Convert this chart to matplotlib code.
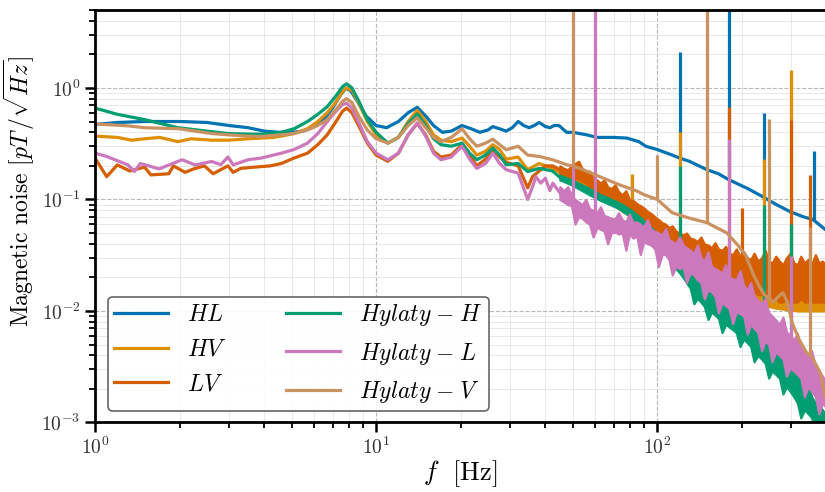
import numpy as np
import matplotlib
matplotlib.use("Agg")
import matplotlib.pyplot as plt

plt.rcParams["font.family"] = "serif"
plt.rcParams["font.serif"] = ["cmr10", "DejaVu Serif"]
plt.rcParams["mathtext.fontset"] = "cm"
plt.rcParams["axes.unicode_minus"] = False
plt.rcParams["axes.formatter.use_mathtext"] = True

# Values: frequency in Hz, noise in pT/sqrt(Hz).
# Smooth part of each spectrum
f_hl = [1, 1.2, 1.5, 2.0, 2.5, 3.0, 3.5, 4.0, 4.5, 5.0, 5.5, 6.0, 6.5, 7.0, 7.5, 7.8, 8.1, 8.6, 9.2,
        10, 10.9, 12, 13, 14, 15, 16, 17.2, 18.5, 20.2, 21.8, 23.4, 25, 26, 27.5, 29, 30.5, 32,
        33.5, 35, 36.5, 38, 40, 41.5, 43, 44.7, 47.6, 50, 56, 61, 70, 78, 86, 91, 100, 113,
        120, 130, 150, 165, 180, 210, 237, 265, 296, 330, 358, 395]
v_hl = [0.47, 0.49, 0.50, 0.50, 0.49, 0.46, 0.44, 0.41, 0.40, 0.40, 0.41, 0.45, 0.52, 0.66, 0.88,
        0.99, 0.95, 0.75, 0.56, 0.46, 0.44, 0.50, 0.60, 0.67, 0.56, 0.46, 0.40, 0.41, 0.46, 0.43,
        0.40, 0.42, 0.45, 0.43, 0.41, 0.44, 0.50, 0.46, 0.44, 0.46, 0.49, 0.45, 0.44, 0.46, 0.46,
        0.40, 0.40, 0.38, 0.36, 0.36, 0.355, 0.33, 0.30, 0.28, 0.25, 0.235, 0.22, 0.185, 0.17,
        0.15, 0.125, 0.106, 0.09, 0.078, 0.07, 0.066, 0.054]

f_hv = [1, 1.2, 1.35, 1.5, 1.7, 1.97, 2.2, 2.6, 3.0, 3.5, 3.9, 4.3, 4.6, 5.1, 5.7, 6.2, 6.7, 7.2,
        7.6, 7.85, 8.2, 8.7, 9.3, 10, 11, 12, 13, 14, 15, 16, 17, 18.5, 20.2, 21.5, 22.8, 24.5,
        26, 27.5, 29, 32, 34.6, 38, 42.4, 45]
v_hv = [0.37, 0.36, 0.34, 0.35, 0.36, 0.33, 0.35, 0.34, 0.34, 0.35, 0.355, 0.36, 0.37, 0.39, 0.43,
        0.50, 0.60, 0.75, 0.93, 1.0, 0.95, 0.72, 0.50, 0.38, 0.32, 0.36, 0.50, 0.63, 0.50, 0.38,
        0.34, 0.33, 0.355, 0.30, 0.25, 0.27, 0.31, 0.28, 0.23, 0.24, 0.185, 0.21, 0.19, 0.175]

f_lv = [1, 1.1, 1.2, 1.33, 1.5, 1.58, 1.83, 1.9, 2.09, 2.27, 2.45, 2.63, 2.97, 3.1, 3.3, 3.7, 4.2,
        4.6, 5.1, 5.7, 6.2, 6.7, 7.2, 7.6, 7.85, 8.2, 8.7, 9.3, 10, 11, 12, 13, 14, 15, 16, 17,
        18.5, 20.2, 21.5, 22.8, 24.5, 26, 27.5, 29, 32, 34.6, 36, 38, 40, 42.4, 45]
v_lv = [0.235, 0.16, 0.204, 0.18, 0.195, 0.166, 0.17, 0.20, 0.175, 0.19, 0.20, 0.17, 0.20, 0.175,
        0.19, 0.195, 0.20, 0.21, 0.235, 0.26, 0.31, 0.38, 0.50, 0.62, 0.66, 0.60, 0.45, 0.32,
        0.25, 0.22, 0.26, 0.38, 0.48, 0.38, 0.27, 0.24, 0.25, 0.31, 0.25, 0.20, 0.23, 0.275,
        0.24, 0.215, 0.20, 0.127, 0.16, 0.18, 0.20, 0.20, 0.185]

f_hyh = [1, 1.2, 1.5, 1.97, 2.5, 2.97, 3.5, 3.9, 4.6, 5.1, 5.7, 6.2, 6.7, 7.2, 7.6, 7.85, 8.2,
         8.7, 9.3, 10, 11, 12, 13, 14, 15, 16, 17, 18.5, 20.2, 21.5, 22.8, 24.5, 26, 27.5, 29,
         32, 34.6, 38, 42.4, 45]
v_hyh = [0.66, 0.58, 0.52, 0.44, 0.41, 0.39, 0.385, 0.385, 0.40, 0.43, 0.50, 0.58, 0.68, 0.85,
         1.03, 1.09, 1.0, 0.75, 0.52, 0.40, 0.32, 0.36, 0.48, 0.585, 0.46, 0.35, 0.31, 0.30,
         0.32, 0.26, 0.227, 0.25, 0.288, 0.25, 0.205, 0.21, 0.178, 0.19, 0.18, 0.158]

f_hyl = [1, 1.1, 1.31, 1.38, 1.45, 1.69, 2.04, 2.27, 2.6, 2.8, 2.97, 3.1, 3.5, 3.9, 4.6, 5.1, 5.7,
         6.2, 6.7, 7.2, 7.6, 7.85, 8.2, 8.7, 9.3, 10, 11, 12, 13, 14, 15, 16, 17, 18.5, 20.2,
         21.5, 22.8, 24.5, 26, 27.5, 29, 32, 34.6, 36, 37, 38.5, 40, 41.5, 42.5, 45]
v_hyl = [0.26, 0.243, 0.204, 0.178, 0.21, 0.188, 0.227, 0.204, 0.219, 0.205, 0.24, 0.204, 0.227,
         0.235, 0.26, 0.28, 0.32, 0.39, 0.50, 0.62, 0.71, 0.73, 0.66, 0.48, 0.33, 0.26, 0.227,
         0.26, 0.38, 0.486, 0.37, 0.26, 0.227, 0.24, 0.30, 0.23, 0.19, 0.21, 0.26, 0.21, 0.185,
         0.172, 0.10, 0.13, 0.16, 0.14, 0.155, 0.12, 0.14, 0.115]

f_hyv = [1, 1.31, 1.5, 1.73, 2.0, 2.27, 2.6, 2.97, 3.5, 3.9, 4.6, 5.1, 5.7, 6.2, 6.7, 7.2, 7.6,
         7.85, 8.2, 8.7, 9.3, 10, 11, 12, 13, 14, 15, 16, 17, 18.5, 20.2, 21.5, 22.8, 24.5, 26,
         27.5, 29, 32, 34.6, 38, 42.4, 47.6, 50, 54.5, 62.4, 73.5, 84, 90, 100, 113, 130, 150,
         177, 195, 207, 220, 231, 240, 250, 258, 270, 280, 290, 302, 320, 340, 350, 360, 380, 395]
v_hyv = [0.475, 0.457, 0.44, 0.435, 0.43, 0.41, 0.39, 0.38, 0.37, 0.367, 0.38, 0.39, 0.42, 0.46,
         0.52, 0.64, 0.76, 0.80, 0.74, 0.55, 0.42, 0.35, 0.32, 0.36, 0.46, 0.54, 0.44, 0.36,
         0.33, 0.36, 0.43, 0.35, 0.30, 0.32, 0.347, 0.31, 0.279, 0.30, 0.25, 0.243, 0.227, 0.205,
         0.20, 0.185, 0.16, 0.135, 0.12, 0.11, 0.10, 0.076, 0.068, 0.062, 0.05, 0.038, 0.031,
         0.021, 0.0165, 0.014, 0.013, 0.012, 0.0135, 0.0146, 0.012, 0.0078, 0.0055, 0.0042,
         0.004, 0.0036, 0.0028, 0.0017]

# Noisy high-frequency part: lower / upper edge of the band at each frequency
f_band = [45, 46.5, 48, 49.5, 51, 52.5, 54, 55.7, 57.4, 59.1, 61, 62.8, 64.7, 66.6, 68.6, 70.7,
          72.8, 75, 77.3, 79.6, 82, 84.5, 87, 89.6, 92.3, 95, 98, 101, 104, 107, 110, 113, 116.5,
          120, 123.5, 127, 131, 135, 139, 143, 147, 151.5, 156, 160.5, 165, 170, 175, 180, 185.5,
          191, 197, 203, 209, 215, 221, 228, 235, 242, 249, 256, 264, 272, 280, 288, 297, 306,
          315, 324, 334, 344, 354, 365, 376, 387, 395]

lo_hv = [0.16, 0.15, 0.155, 0.14, 0.145, 0.135, 0.13, 0.13, 0.12, 0.115, 0.11, 0.105, 0.10, 0.095,
         0.09, 0.088, 0.083, 0.078, 0.075, 0.07, 0.065, 0.06, 0.056, 0.053, 0.05, 0.046, 0.043,
         0.04, 0.037, 0.035, 0.033, 0.031, 0.029, 0.027, 0.025, 0.024, 0.022, 0.021, 0.02, 0.019,
         0.018, 0.017, 0.016, 0.015, 0.0155, 0.015, 0.0145, 0.014, 0.0135, 0.0132, 0.013,
         0.0125, 0.012, 0.012, 0.0118, 0.0115, 0.0113, 0.011, 0.011, 0.0108, 0.0106, 0.0105,
         0.0104, 0.0103, 0.0102, 0.0101, 0.01, 0.01, 0.01, 0.01, 0.01, 0.01, 0.01, 0.01, 0.01]
hi_hv = [0.19, 0.18, 0.175, 0.17, 0.175, 0.165, 0.16, 0.155, 0.15, 0.14, 0.135, 0.13, 0.125, 0.12,
         0.115, 0.11, 0.105, 0.10, 0.095, 0.09, 0.085, 0.08, 0.075, 0.07, 0.066, 0.062, 0.058,
         0.055, 0.052, 0.05, 0.047, 0.045, 0.042, 0.04, 0.037, 0.035, 0.033, 0.031, 0.03, 0.028,
         0.027, 0.026, 0.024, 0.023, 0.022, 0.021, 0.02, 0.019, 0.019, 0.019, 0.019, 0.018,
         0.018, 0.0175, 0.017, 0.017, 0.0165, 0.016, 0.016, 0.0155, 0.0155, 0.015, 0.015, 0.015,
         0.0145, 0.0145, 0.014, 0.014, 0.014, 0.014, 0.0135, 0.0135, 0.0135, 0.0135, 0.0135]

lo_lv = [0.17, 0.165, 0.16, 0.15, 0.155, 0.15, 0.145, 0.14, 0.13, 0.12, 0.115, 0.11, 0.105, 0.10,
         0.097, 0.093, 0.088, 0.083, 0.08, 0.076, 0.071, 0.066, 0.062, 0.058, 0.055, 0.051,
         0.048, 0.045, 0.042, 0.04, 0.038, 0.036, 0.034, 0.032, 0.03, 0.029, 0.028, 0.027, 0.026,
         0.025, 0.024, 0.023, 0.022, 0.021, 0.021, 0.02, 0.019, 0.019, 0.018, 0.017, 0.017,
         0.016, 0.016, 0.015, 0.015, 0.014, 0.014, 0.014, 0.013, 0.013, 0.013, 0.012, 0.012,
         0.013, 0.012, 0.012, 0.012, 0.013, 0.012, 0.012, 0.012, 0.012, 0.012, 0.012, 0.012]
hi_lv = [0.20, 0.19, 0.185, 0.20, 0.21, 0.22, 0.19, 0.17, 0.18, 0.155, 0.15, 0.14, 0.15, 0.13,
         0.125, 0.135, 0.118, 0.11, 0.12, 0.10, 0.098, 0.092, 0.088, 0.084, 0.078, 0.075, 0.07,
         0.066, 0.062, 0.06, 0.056, 0.058, 0.052, 0.05, 0.048, 0.05, 0.045, 0.044, 0.042, 0.046,
         0.04, 0.039, 0.037, 0.041, 0.036, 0.035, 0.038, 0.033, 0.032, 0.036, 0.031, 0.034, 0.03,
         0.029, 0.033, 0.028, 0.03, 0.035, 0.028, 0.027, 0.031, 0.028, 0.026, 0.03, 0.033, 0.027,
         0.026, 0.031, 0.027, 0.029, 0.026, 0.032, 0.027, 0.028, 0.026]

lo_hyh = [0.15, 0.145, 0.14, 0.135, 0.13, 0.125, 0.12, 0.115, 0.11, 0.106, 0.102, 0.098, 0.095,
          0.092, 0.089, 0.086, 0.083, 0.079, 0.075, 0.071, 0.067, 0.063, 0.059, 0.055, 0.051,
          0.047, 0.043, 0.039, 0.036, 0.033, 0.03, 0.027, 0.024, 0.022, 0.02, 0.018, 0.016,
          0.0116, 0.013, 0.012, 0.011, 0.0084, 0.0098, 0.0092, 0.0086, 0.0064, 0.0076, 0.0072,
          0.0068, 0.0064, 0.0048, 0.0056, 0.0052, 0.0048, 0.0035, 0.004, 0.0037, 0.0034, 0.0025,
          0.0029, 0.0027, 0.0025, 0.0018, 0.0021, 0.0019, 0.0017, 0.0015, 0.0011, 0.0013, 0.0012,
          0.0011, 0.0008, 0.0009, 0.00085, 0.0008]
hi_hyh = [0.165, 0.16, 0.155, 0.15, 0.145, 0.14, 0.135, 0.13, 0.125, 0.12, 0.115, 0.11, 0.107,
          0.104, 0.10, 0.097, 0.094, 0.09, 0.086, 0.082, 0.078, 0.073, 0.069, 0.064, 0.06, 0.056,
          0.052, 0.048, 0.044, 0.041, 0.038, 0.035, 0.032, 0.029, 0.033, 0.025, 0.023, 0.021,
          0.019, 0.021, 0.0165, 0.0155, 0.0148, 0.0168, 0.0133, 0.0126, 0.012, 0.0138, 0.011,
          0.0105, 0.01, 0.0095, 0.0108, 0.0083, 0.0076, 0.0084, 0.0064, 0.0058, 0.0053, 0.0049,
          0.0054, 0.0042, 0.0039, 0.0036, 0.004, 0.003, 0.0027, 0.0024, 0.0021, 0.0023, 0.0017,
          0.0015, 0.0014, 0.0013, 0.0012]

lo_hyl = [0.10, 0.095, 0.09, 0.088, 0.06, 0.07, 0.068, 0.063, 0.06, 0.046, 0.056, 0.054, 0.052,
          0.04, 0.05, 0.051, 0.049, 0.05, 0.035, 0.049, 0.045, 0.047, 0.032, 0.042, 0.04, 0.039,
          0.036, 0.025, 0.032, 0.032, 0.029, 0.021, 0.025, 0.024, 0.025, 0.018, 0.022, 0.021,
          0.019, 0.018, 0.0128, 0.0155, 0.0148, 0.0135, 0.0096, 0.012, 0.0112, 0.0105, 0.0077,
          0.0098, 0.0095, 0.009, 0.0062, 0.0076, 0.007, 0.0064, 0.0044, 0.0054, 0.005, 0.0035,
          0.0043, 0.004, 0.0037, 0.0026, 0.0031, 0.0029, 0.0027, 0.0025, 0.0017, 0.0021, 0.0019,
          0.0017, 0.0012, 0.0015, 0.0014]
hi_hyl = [0.13, 0.12, 0.13, 0.11, 0.10, 0.095, 0.09, 0.10, 0.083, 0.08, 0.076, 0.086, 0.072,
          0.07, 0.068, 0.067, 0.076, 0.066, 0.063, 0.074, 0.062, 0.063, 0.06, 0.057, 0.066,
          0.054, 0.052, 0.05, 0.048, 0.055, 0.044, 0.042, 0.04, 0.046, 0.039, 0.037, 0.035, 0.033,
          0.039, 0.03, 0.028, 0.034, 0.025, 0.024, 0.023, 0.022, 0.026, 0.02, 0.0195, 0.019,
          0.023, 0.017, 0.0155, 0.018, 0.0135, 0.0125, 0.0115, 0.013, 0.0097, 0.009, 0.0083,
          0.0076, 0.0088, 0.0065, 0.006, 0.0055, 0.0063, 0.0046, 0.0042, 0.0038, 0.0044, 0.0032,
          0.0029, 0.0026, 0.0024]

# Mains / narrow lines: frequency, level at the foot, level at the top
spk_f = {
    "HL": [120, 180, 240, 360],
    "HV": [81.5, 120, 240, 300],
    "LV": [180, 200, 300, 350],
    "HyH": [120, 240, 300],
    "HyL": [50, 60, 180, 300],
    "HyV": [50, 100, 150, 250, 350],
}
spk_base = {
    "HL": [0.235, 0.15, 0.105, 0.066],
    "HV": [0.1, 0.045, 0.016, 0.012],
    "LV": [0.025, 0.02, 0.015, 0.015],
    "HyH": [0.025, 0.004, 0.002],
    "HyL": [0.1, 0.07, 0.012, 0.004],
    "HyV": [0.2, 0.1, 0.062, 0.013, 0.004],
}
spk_top = {
    "HL": [2.1, 9.0, 0.6, 0.27],
    "HV": [0.17, 0.4, 0.23, 1.45],
    "LV": [0.68, 0.084, 0.52, 0.167],
    "HyH": [0.2, 0.09, 0.06],
    "HyL": [0.2, 9.0, 0.35, 0.031],
    "HyV": [9.0, 0.25, 9.0, 0.53, 0.057],
}

keys = ["HL", "HV", "LV", "HyH", "HyL", "HyV"]
labels = ["$HL$", "$HV$", "$LV$", r"$Hylaty\;{-}\;H$", r"$Hylaty\;{-}\;L$", r"$Hylaty\;{-}\;V$"]
colors = ["#0173b2", "#de8f05", "#d55e00", "#029e73", "#cc78bc", "#ca9161"]
smooth = [(f_hl, v_hl), (f_hv, v_hv), (f_lv, v_lv), (f_hyh, v_hyh), (f_hyl, v_hyl), (f_hyv, v_hyv)]
bands = [None, (lo_hv, hi_hv), (lo_lv, hi_lv), (lo_hyh, hi_hyh), (lo_hyl, hi_hyl), None]

fig = plt.figure(figsize=(8.25, 4.92), dpi=100)
ax = fig.add_axes([0.1152, 0.1413, 0.8848, 0.8384])

for i, key in enumerate(keys):
    z = 2 + 0.1 * i
    ax.plot(smooth[i][0], smooth[i][1], color=colors[i], lw=2.3, label=labels[i], zorder=z)
    if bands[i] is not None:
        lo, hi = bands[i]
        ax.fill_between(f_band, lo, hi, facecolor=colors[i], edgecolor=colors[i],
                        lw=1.6, zorder=z)
    ax.vlines(spk_f[key], spk_base[key], spk_top[key], colors=colors[i], lw=2.3, zorder=z)

ax.set_xscale("log")
ax.set_yscale("log")
ax.set_xlim(1, 395)
ax.set_ylim(1e-3, 5)

ax.grid(True, which="major", ls="--", color="#b8b8b8", lw=0.8)
ax.grid(True, which="minor", ls="-", color="#e4e4e4", lw=0.6)
ax.set_axisbelow(True)

for side in ["left", "bottom", "top"]:
    ax.spines[side].set_linewidth(2.0)
ax.spines["right"].set_visible(False)
ax.tick_params(which="major", length=7, width=1.8, labelsize=14, direction="out",
               colors="black", labelcolor="#333333")
ax.tick_params(which="minor", length=4.5, width=1.3, direction="out")
ax.tick_params(top=False, right=False, which="both")

ax.set_xlabel(r"$f\ $ [Hz]", fontsize=19, labelpad=0)
ax.set_ylabel(r"Magnetic noise $[pT\,/\sqrt{Hz}]$", fontsize=17)
ax.yaxis.set_label_coords(-0.079, 0.56)

leg = ax.legend(loc="lower left", ncol=2, fontsize=17, frameon=True, fancybox=True,
                handlelength=2.3, columnspacing=2.5, labelspacing=0.52, borderpad=0.25,
                bbox_to_anchor=(0.018, 0.028), borderaxespad=0)
leg.get_frame().set_edgecolor("#555555")
leg.get_frame().set_linewidth(1.2)
leg.get_frame().set_alpha(0.9)

fig.savefig("out.png", dpi=100)
